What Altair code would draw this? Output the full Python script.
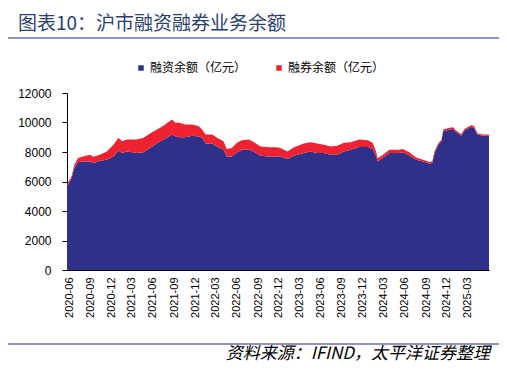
import altair as alt
import pandas as pd

# ---- data ----
dates = [
    "2020-06-01", "2020-06-21", "2020-07-03", "2020-07-19", "2020-08-10", "2020-09-09", "2020-09-24",
    "2020-10-22", "2020-11-21", "2020-12-20",
    "2021-01-11", "2021-01-26", "2021-02-17", "2021-04-01", "2021-04-30", "2021-05-28", "2021-07-11",
    "2021-08-02", "2021-09-01", "2021-09-15", "2021-09-30", "2021-10-29", "2021-11-28", "2021-12-26",
    "2022-01-10", "2022-01-25", "2022-02-23", "2022-03-15", "2022-04-13", "2022-04-27", "2022-05-19",
    "2022-06-11", "2022-07-02", "2022-08-01", "2022-08-22", "2022-09-21", "2022-10-27", "2022-11-26",
    "2022-12-17",
    "2023-01-16", "2023-02-14", "2023-03-28", "2023-04-26", "2023-05-25", "2023-06-24", "2023-07-22",
    "2023-08-21", "2023-09-19", "2023-10-18", "2023-11-24",
    "2024-01-01", "2024-01-22", "2024-02-06", "2024-02-13", "2024-03-05", "2024-04-03", "2024-05-16",
    "2024-06-01", "2024-07-01", "2024-07-29", "2024-08-28", "2024-09-25", "2024-10-07", "2024-10-17",
    "2024-11-02", "2024-11-16", "2024-11-24", "2024-12-22",
    "2025-01-05", "2025-01-19", "2025-02-10", "2025-02-24", "2025-03-25", "2025-04-07", "2025-04-22",
    "2025-05-14", "2025-06-11",
]
financing = [
    5650, 6230, 6910, 7320, 7360, 7360, 7250, 7400, 7480, 7700,
    8110, 7930, 8040, 7930, 7980, 8270, 8730, 8890, 9180, 9070, 9000, 9000, 9110, 9050,
    8960, 8570, 8570, 8380, 8160, 7700, 7700, 7980, 8160, 8160, 8040, 7750, 7700, 7700, 7700,
    7520, 7750, 7930, 8040, 7930, 7930, 7820, 7820, 8040, 8160, 8340,
    8340, 8210, 7700, 7360, 7590, 7930, 7930, 7980, 7750, 7480, 7360, 7200, 7250, 7930, 8500, 8730, 9410, 9520,
    9560, 9340, 9110, 9450, 9700, 9640, 9180, 9110, 9110,
]
lending = [
    150, 150, 230, 270, 340, 460, 420, 420, 560, 800,
    850, 800, 800, 910, 980, 980, 910, 970, 1020, 910, 1000, 860, 750, 700,
    560, 610, 610, 580, 570, 510, 570, 640, 630, 680, 640, 630, 630, 630, 570,
    520, 580, 640, 620, 640, 570, 560, 610, 580, 500, 500,
    460, 410, 300, 220, 210, 230, 230, 220, 210, 140, 120, 120, 110, 100, 100, 100, 110, 120,
    120, 110, 90, 110, 120, 120, 80, 80, 80,
]
series_names = ["融资余额（亿元）", "融券余额（亿元）"]
series_colors = ["#2E3089", "#EE2230"]
y_ticks = [0, 2000, 4000, 6000, 8000, 10000, 12000]
x_tick_labels = [
    "2020-06", "2020-09", "2020-12", "2021-03", "2021-06", "2021-09", "2021-12", "2022-03", "2022-06",
    "2022-09", "2022-12", "2023-03", "2023-06", "2023-09", "2023-12", "2024-03", "2024-06", "2024-09",
    "2024-12", "2025-03",
]
title_text = "图表10：沪市融资融券业务余额"
source_text = "资料来源：IFIND，太平洋证券整理"

# ---- build table ----
rows = []
for d, f, l in zip(dates, financing, lending):
    rows.append({"date": d, "series": series_names[0], "value": f, "ord": 0})
    rows.append({"date": d, "series": series_names[1], "value": l, "ord": 1})
df = pd.DataFrame(rows)

x_values = [alt.DateTime(year=int(s[:4]), month=int(s[5:7]), date=10) for s in x_tick_labels]

CJK = "Noto Sans CJK SC"
LAT = "Liberation Sans"

area = alt.Chart(df).mark_area(opacity=1, interpolate="linear").encode(
    x=alt.X(
        "date:T",
        scale=alt.Scale(nice=False, padding=0),
        axis=alt.Axis(
            values=x_values, format="%Y-%m", labelAngle=-90, ticks=False, labelPadding=7,
            labelFont=LAT, labelFontSize=11, labelColor="#000000", domainColor="#000000",
            domainWidth=1, grid=False, title=None, labelOverlap=False, labelFlush=False,
        ),
    ),
    y=alt.Y(
        "value:Q",
        stack="zero",
        scale=alt.Scale(domain=[0, 12000], nice=False),
        axis=alt.Axis(
            values=y_ticks, format="d", tickSize=5, tickColor="#000000", labelPadding=11,
            labelFont=LAT, labelFontSize=12, labelColor="#000000", domainColor="#000000",
            domainWidth=1, grid=False, title=None,
        ),
    ),
    color=alt.Color(
        "series:N",
        scale=alt.Scale(domain=series_names, range=series_colors),
        legend=alt.Legend(
            title=None, orient="none", legendX=68, legendY=-31, direction="horizontal",
            symbolType="square", symbolSize=30, symbolStrokeWidth=0, symbolOpacity=1,
            labelFont=CJK, labelFontSize=12, labelColor="#000000", labelOffset=3,
            columnPadding=26, padding=0,
        ),
    ),
    order=alt.Order("ord:Q"),
)

deco = pd.DataFrame({"t": [title_text]})
title = alt.Chart(deco).mark_text(
    font=CJK, fontSize=19, color="#2B3F6F", align="left", baseline="middle"
).encode(x=alt.value(-49), y=alt.value(-69), text="t:N")

src = alt.Chart(pd.DataFrame({"t": [source_text]})).mark_text(
    font=CJK, fontSize=17, fontStyle="italic", color="#000000", align="right", baseline="middle"
).encode(x=alt.value(423), y=alt.value(261), text="t:N")

top_line = alt.Chart(deco).mark_rule(color="#9192C4", strokeWidth=2).encode(
    x=alt.value(-62), x2=alt.value(434), y=alt.value(-55)
)
bottom_line = alt.Chart(deco).mark_rule(color="#9192C4", strokeWidth=2).encode(
    x=alt.value(-62), x2=alt.value(434), y=alt.value(251)
)

chart = alt.layer(area, title, src, top_line, bottom_line).properties(
    width=422, height=177,
    padding={"left": 59, "top": 85, "right": 10, "bottom": 93},
    autosize=alt.AutoSizeParams(type="none"),
    background="#FFFFFF",
).configure_view(stroke=None)

chart.save("out.html", embed_options={"renderer": "svg", "actions": False})
